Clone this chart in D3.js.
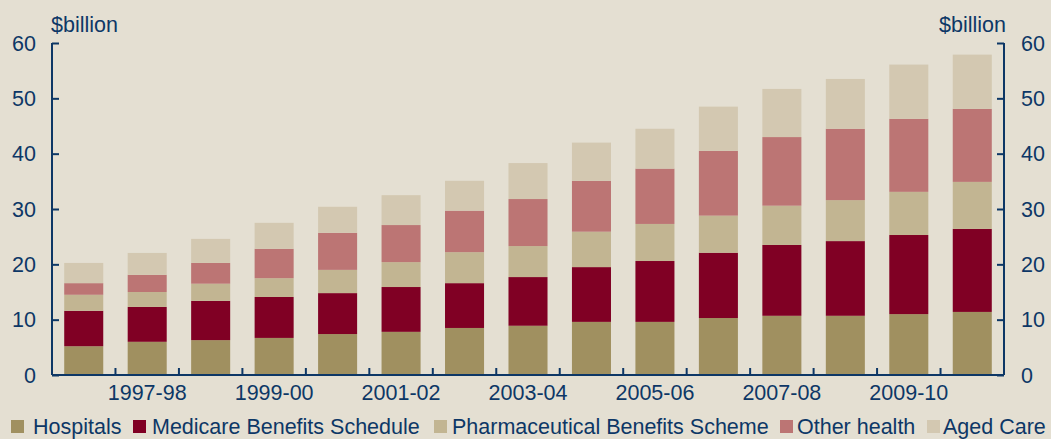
<!DOCTYPE html>
<html>
<head>
<meta charset="utf-8">
<script src="https://cdn.jsdelivr.net/npm/d3@7"></script>
<style>
  html, body { margin: 0; padding: 0; background: #E4DFD2; }
  svg { display: block; font-family: "Liberation Sans", Arial, sans-serif; }
</style>
</head>
<body>
<div id="chart"></div>
<script>
//********************************************************************//
//                    DATA ($billion)
//*******************************************************************//

  var years = ["1996-97", "1997-98", "1998-99", "1999-00", "2000-01",
               "2001-02", "2002-03", "2003-04", "2004-05", "2005-06",
               "2006-07", "2007-08", "2008-09", "2009-10", "2010-11"];

  var seriesNames = ["Hospitals", "Medicare Benefits Schedule",
                     "Pharmaceutical Benefits Scheme", "Other health", "Aged Care"];

  var hospitals = [5.2, 6.0, 6.3, 6.7, 7.4, 7.8, 8.5, 8.9, 9.6, 9.6, 10.3, 10.7, 10.7, 11.0, 11.4];
  var medicare  = [6.4, 6.3, 7.1, 7.4, 7.4, 8.1, 8.1, 8.8, 9.9, 11.0, 11.8, 12.8, 13.5, 14.3, 15.0];
  var pbs       = [2.9, 2.7, 3.1, 3.4, 4.2, 4.5, 5.6, 5.6, 6.4, 6.7, 6.7, 7.1, 7.4, 7.8, 8.5];
  var otherHealth = [2.1, 3.1, 3.75, 5.3, 6.7, 6.7, 7.5, 8.5, 9.2, 10.0, 11.7, 12.4, 12.9, 13.2, 13.2];
  var agedCare  = [3.65, 3.96, 4.35, 4.7, 4.7, 5.4, 5.4, 6.5, 6.9, 7.2, 8.0, 8.7, 9.0, 9.8, 9.8];

  var yTicks = [0, 10, 20, 30, 40, 50, 60];
  var xLabels = ["1997-98", "1999-00", "2001-02", "2003-04", "2005-06", "2007-08", "2009-10"];

  var colors = ["#A09060", "#800024", "#C2B592", "#BC7574", "#D3C8B1"];

//********************************************************************//
//                    CHART
//*******************************************************************//

drawChart();

function drawChart() {
  var width = 1051,
      height = 439,
      left = 52, right = 1004,
      top = 43, bottom = 375,
      ink = "#0D3766",
      fontSize = "21.5px";

  var svg = d3.select("#chart")
              .append("svg")
              .attr("width", width)
              .attr("height", height);

  svg.append("rect")
     .attr("width", width)
     .attr("height", height)
     .attr("fill", "#E4DFD2");

  // build table for the stack
  var table = years.map(function(y, i) {
    return {year: y,
            "Hospitals": hospitals[i],
            "Medicare Benefits Schedule": medicare[i],
            "Pharmaceutical Benefits Scheme": pbs[i],
            "Other health": otherHealth[i],
            "Aged Care": agedCare[i]};
  });

  var stacked = d3.stack().keys(seriesNames)(table);

  var x = d3.scaleBand()
            .domain(years)
            .range([left, right])
            .paddingInner(0.385)
            .paddingOuter(0.1925);

  var y = d3.scaleLinear()
            .domain([0, 60])
            .range([bottom, top]);

  var color = d3.scaleOrdinal()
                .domain(seriesNames)
                .range(colors);

  // bars
  svg.append("g")
     .selectAll("g")
     .data(stacked)
     .enter()
     .append("g")
     .attr("fill", function(d) { return color(d.key); })
     .selectAll("rect")
     .data(function(d) { return d; })
     .enter()
     .append("rect")
     .attr("x", function(d) { return x(d.data.year); })
     .attr("width", x.bandwidth())
     .attr("y", function(d) { return y(d[1]); })
     .attr("height", function(d) { return y(d[0]) - y(d[1]); });

  // left and right axes (ticks point inward)
  var leftAxis = svg.append("g")
     .attr("transform", "translate(" + left + ",0)")
     .call(d3.axisRight(y).tickValues(yTicks).tickSize(7).tickFormat(""));

  var rightAxis = svg.append("g")
     .attr("transform", "translate(" + right + ",0)")
     .call(d3.axisLeft(y).tickValues(yTicks).tickSize(7).tickFormat(""));

  // bottom axis: ticks at category boundaries, pointing up
  var step = x.step();
  var bounds = years.map(function(d, i) { return left + i * step; }).concat([right]);
  var bottomAxis = svg.append("g")
     .attr("transform", "translate(0," + bottom + ")");
  bottomAxis.append("line")
     .attr("x1", left).attr("x2", right)
     .attr("y1", 0).attr("y2", 0);
  bottomAxis.selectAll("line.tick")
     .data(bounds)
     .enter()
     .append("line")
     .attr("class", "tick")
     .attr("x1", function(d) { return d; })
     .attr("x2", function(d) { return d; })
     .attr("y1", 0).attr("y2", -7);

  [leftAxis, rightAxis].forEach(function(g) {
    g.select(".domain").attr("stroke", ink).attr("stroke-width", 2)
     .attr("d", "M0," + top + "V" + bottom);
    g.selectAll(".tick line").attr("stroke", ink).attr("stroke-width", 2);
  });
  bottomAxis.selectAll("line").attr("stroke", ink).attr("stroke-width", 2);

  // y tick labels
  svg.selectAll("text.yl")
     .data(yTicks)
     .enter()
     .append("text")
     .attr("class", "yl")
     .attr("x", 36)
     .attr("y", function(d) { return y(d); })
     .attr("dy", "0.36em")
     .attr("text-anchor", "end")
     .style("font-size", fontSize)
     .attr("fill", ink)
     .text(function(d) { return d; });

  svg.selectAll("text.yr")
     .data(yTicks)
     .enter()
     .append("text")
     .attr("class", "yr")
     .attr("x", 1021)
     .attr("y", function(d) { return y(d); })
     .attr("dy", "0.36em")
     .attr("text-anchor", "start")
     .style("font-size", fontSize)
     .attr("fill", ink)
     .text(function(d) { return d; });

  // x labels, every second year
  svg.selectAll("text.xl")
     .data(xLabels)
     .enter()
     .append("text")
     .attr("class", "xl")
     .attr("x", function(d) { return x(d) + x.bandwidth() / 2; })
     .attr("y", 400)
     .attr("text-anchor", "middle")
     .style("font-size", fontSize)
     .attr("fill", ink)
     .text(function(d) { return d; });

  // units
  svg.append("text")
     .attr("x", 51).attr("y", 32)
     .style("font-size", fontSize)
     .attr("fill", ink)
     .text("$billion");

  svg.append("text")
     .attr("x", 1006).attr("y", 32)
     .attr("text-anchor", "end")
     .style("font-size", fontSize)
     .attr("fill", ink)
     .text("$billion");

  // legend: square + label, spots
  var legendSquareX = [11, 133, 434, 780, 927];
  var legendTextX = [33, 152, 452, 797, 943];

  svg.selectAll("rect.key")
     .data(seriesNames)
     .enter()
     .append("rect")
     .attr("class", "key")
     .attr("x", function(d, i) { return legendSquareX[i]; })
     .attr("y", 420)
     .attr("width", 13).attr("height", 13)
     .attr("fill", function(d) { return color(d); });

  svg.selectAll("text.key")
     .data(seriesNames)
     .enter()
     .append("text")
     .attr("class", "key")
     .attr("x", function(d, i) { return legendTextX[i]; })
     .attr("y", 434)
     .style("font-size", "21.5px")
     .attr("fill", ink)
     .text(function(d) { return d; });
}
</script>
</body>
</html>
